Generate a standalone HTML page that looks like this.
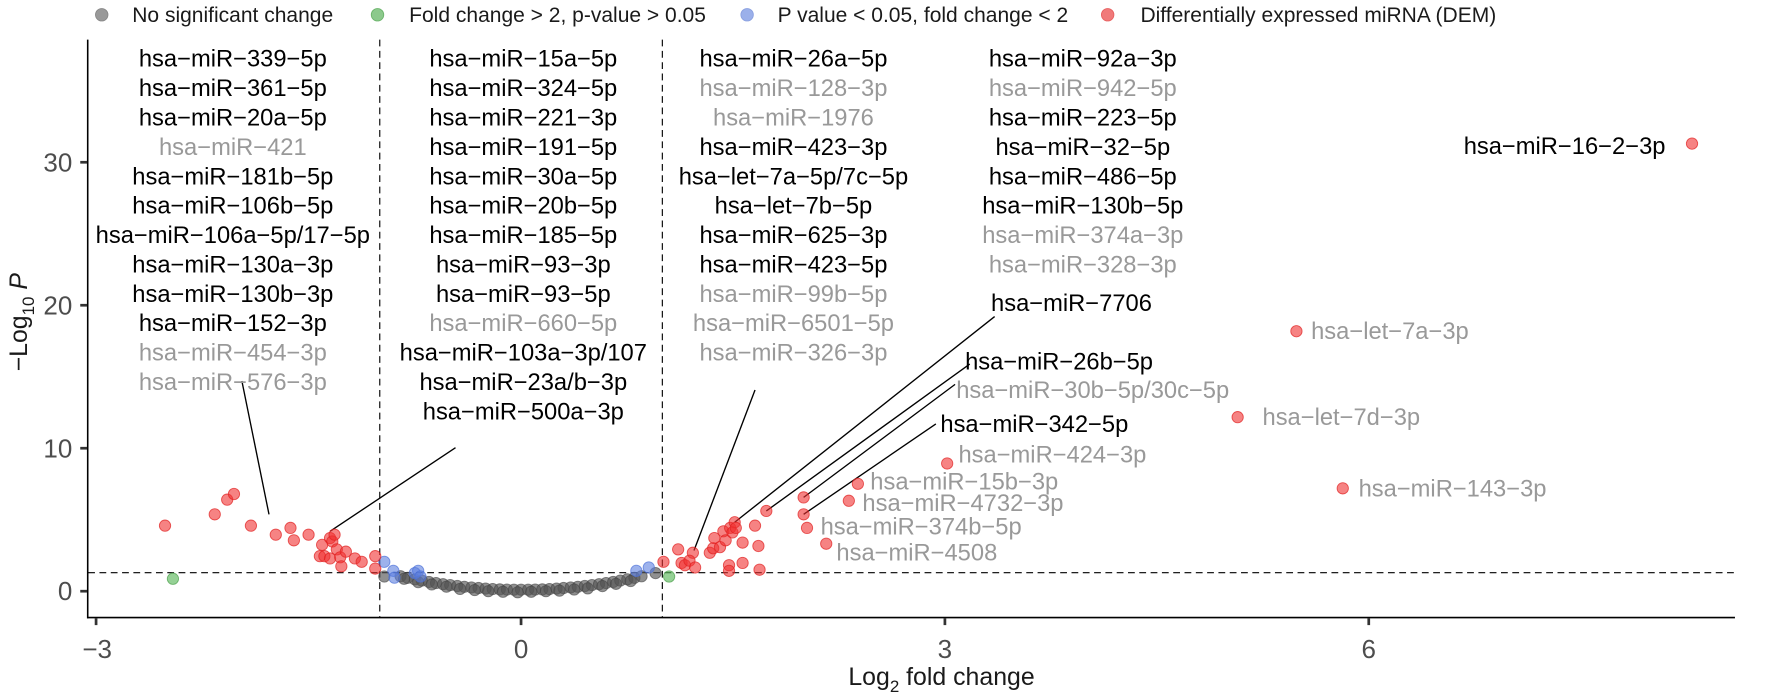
<!DOCTYPE html>
<html><head><meta charset="utf-8"><style>
html,body{margin:0;padding:0;background:#fff;}
svg{display:block;font-family:"Liberation Sans",Arial,sans-serif;}
.lb{font-size:21px;text-anchor:middle;fill:#000;}
.g{fill:#999;}
.tk{font-size:23px;fill:#4d4d4d;}
.lg{font-size:18.6px;fill:#1a1a1a;}
.r{fill:#f03030;fill-opacity:.6;stroke:#e02020;stroke-opacity:.7;stroke-width:.8}
.k{fill:#555;fill-opacity:.65;stroke:#444;stroke-opacity:.6;stroke-width:.8}
.b{fill:#5b7fe0;fill-opacity:.6;stroke:#4a6fd8;stroke-opacity:.7;stroke-width:.8}
.gr{fill:#5cb85c;fill-opacity:.65;stroke:#4aa04a;stroke-opacity:.7;stroke-width:.8}
</style></head><body>
<svg width="1770" height="693" viewBox="0 0 1566 613" xmlns="http://www.w3.org/2000/svg">
<!-- legend -->
<circle cx="90" cy="13" r="5.5" fill="#999" stroke="#888" stroke-width=".8"/>
<text class="lg" x="117" y="19.5">No significant change</text>
<circle cx="334" cy="13" r="5.5" fill="#8cc98c" stroke="#6ab46a" stroke-width=".8"/>
<text class="lg" x="362" y="19.5">Fold change &gt; 2, p-value &gt; 0.05</text>
<circle cx="661" cy="13" r="5.5" fill="#9bb0ea" stroke="#8aa0e0" stroke-width=".8"/>
<text class="lg" x="688" y="19.5">P value &lt; 0.05, fold change &lt; 2</text>
<circle cx="980" cy="13" r="5.5" fill="#f07a7a" stroke="#e86060" stroke-width=".8"/>
<text class="lg" x="1009" y="19.5">Differentially expressed miRNA (DEM)</text>

<!-- axes -->
<line x1="77.6" y1="35" x2="77.6" y2="547" stroke="#000" stroke-width="1.4"/>
<line x1="77" y1="546.3" x2="1535" y2="546.3" stroke="#000" stroke-width="1.4"/>
<g stroke="#333" stroke-width="2.4">
<line x1="71" y1="523" x2="77" y2="523"/><line x1="71" y1="396.5" x2="77" y2="396.5"/>
<line x1="71" y1="270" x2="77" y2="270"/><line x1="71" y1="143.5" x2="77" y2="143.5"/>
<line x1="85" y1="547" x2="85" y2="553"/><line x1="461" y1="547" x2="461" y2="553"/>
<line x1="836" y1="547" x2="836" y2="553"/><line x1="1211" y1="547" x2="1211" y2="553"/>
</g>
<g class="tk" text-anchor="end">
<text x="64" y="531">0</text><text x="64" y="404.5">10</text><text x="64" y="278">20</text><text x="64" y="151.5">30</text>
</g>
<g class="tk" text-anchor="middle">
<text x="86" y="582">−3</text><text x="461" y="582">0</text><text x="836" y="582">3</text><text x="1211" y="582">6</text>
</g>
<text x="833" y="606" text-anchor="middle" style="font-size:22px;fill:#1a1a1a">Log<tspan font-size="15" dy="6">2</tspan><tspan dy="-6"> fold change</tspan></text>
<text transform="translate(24,285) rotate(-90)" text-anchor="middle" style="font-size:22px;fill:#1a1a1a">−Log<tspan font-size="15" dy="6">10</tspan><tspan dy="-6" font-style="italic"> P</tspan></text>

<!-- threshold lines -->
<g stroke="#000" stroke-width="1" stroke-dasharray="6,4">
<line x1="336" y1="35" x2="336" y2="546"/>
<line x1="586" y1="35" x2="586" y2="546"/>
<line x1="78" y1="506.6" x2="1535" y2="506.6"/>
</g>

<!-- connectors -->
<g stroke="#000" stroke-width="1.2">
<line x1="238" y1="455" x2="214" y2="337"/>
<line x1="292" y1="470" x2="403" y2="396"/>
<line x1="614" y1="487" x2="668" y2="345"/>
<line x1="650" y1="462" x2="880" y2="280"/>
<line x1="678" y1="452" x2="858" y2="322"/>
<line x1="711" y1="440" x2="845" y2="340"/>
<line x1="711" y1="455" x2="828" y2="375"/>
</g>

<!-- gray points -->
<g class="k">
<circle cx="354.4" cy="509.8" r="5"/><circle cx="360.7" cy="511.2" r="5"/><circle cx="367" cy="512.5" r="5"/><circle cx="373.2" cy="513.6" r="5"/><circle cx="379.5" cy="514.8" r="5"/><circle cx="385.8" cy="515.8" r="5"/><circle cx="392" cy="516.8" r="5"/><circle cx="398.3" cy="517.6" r="5"/><circle cx="404.6" cy="518.4" r="5"/><circle cx="410.8" cy="519.1" r="5"/><circle cx="417.1" cy="519.7" r="5"/><circle cx="423.4" cy="520.2" r="5"/><circle cx="429.6" cy="520.7" r="5"/><circle cx="435.9" cy="521.1" r="5"/><circle cx="442.2" cy="521.4" r="5"/><circle cx="448.5" cy="521.6" r="5"/><circle cx="454.7" cy="521.7" r="5"/><circle cx="461" cy="521.7" r="5"/><circle cx="467.3" cy="521.7" r="5"/><circle cx="473.5" cy="521.6" r="5"/><circle cx="479.8" cy="521.4" r="5"/><circle cx="486.1" cy="521.1" r="5"/><circle cx="492.4" cy="520.7" r="5"/><circle cx="498.6" cy="520.2" r="5"/><circle cx="504.9" cy="519.7" r="5"/><circle cx="511.2" cy="519.1" r="5"/><circle cx="517.4" cy="518.4" r="5"/><circle cx="523.7" cy="517.6" r="5"/><circle cx="530" cy="516.8" r="5"/><circle cx="536.2" cy="515.8" r="5"/><circle cx="542.5" cy="514.8" r="5"/><circle cx="548.8" cy="513.6" r="5"/><circle cx="555" cy="512.5" r="5"/><circle cx="561.3" cy="511.2" r="5"/><circle cx="567.6" cy="509.8" r="5"/>
<circle cx="357.5" cy="512" r="5"/><circle cx="370" cy="515" r="5"/><circle cx="382" cy="517" r="5"/><circle cx="395" cy="519" r="5"/><circle cx="407" cy="521" r="5"/><circle cx="420" cy="522" r="5"/><circle cx="432" cy="523" r="5"/><circle cx="445" cy="523.5" r="5"/><circle cx="458" cy="524" r="5"/><circle cx="470" cy="523.5" r="5"/><circle cx="483" cy="523" r="5"/><circle cx="495" cy="522.5" r="5"/><circle cx="508" cy="521.5" r="5"/><circle cx="520" cy="520.5" r="5"/><circle cx="533" cy="518.5" r="5"/><circle cx="545" cy="516.5" r="5"/><circle cx="558" cy="514" r="5"/><circle cx="580" cy="507" r="5"/><circle cx="340" cy="510" r="5"/>
</g>
<!-- blue -->
<g class="b">
<circle cx="340" cy="497" r="5"/><circle cx="348" cy="505" r="5"/><circle cx="349" cy="511" r="5"/><circle cx="367" cy="507" r="5"/><circle cx="370" cy="505" r="5"/><circle cx="372" cy="510" r="5"/><circle cx="563" cy="505" r="5"/><circle cx="574" cy="502" r="5"/>
</g>
<!-- green -->
<g class="gr"><circle cx="153" cy="512" r="5"/><circle cx="592" cy="510" r="5"/></g>
<!-- red -->
<g class="r">
<circle cx="146" cy="465" r="5"/><circle cx="190" cy="455" r="5"/><circle cx="201" cy="442" r="5"/><circle cx="207" cy="437" r="5"/><circle cx="222" cy="465" r="5"/><circle cx="244" cy="473" r="5"/><circle cx="257" cy="467" r="5"/><circle cx="260" cy="478" r="5"/><circle cx="273" cy="473" r="5"/><circle cx="285" cy="482" r="5"/><circle cx="292" cy="476" r="5"/><circle cx="294" cy="479" r="5"/><circle cx="296" cy="473" r="5"/><circle cx="283" cy="492" r="5"/><circle cx="287" cy="492" r="5"/><circle cx="292" cy="494" r="5"/><circle cx="298" cy="486" r="5"/><circle cx="301" cy="493" r="5"/><circle cx="302" cy="501" r="5"/><circle cx="306" cy="488" r="5"/><circle cx="314" cy="494" r="5"/><circle cx="320" cy="497" r="5"/><circle cx="332" cy="492" r="5"/><circle cx="332" cy="503" r="5"/>
<circle cx="587" cy="497" r="5"/><circle cx="600" cy="486" r="5"/><circle cx="603" cy="498" r="5"/><circle cx="606" cy="500" r="5"/><circle cx="613" cy="489" r="5"/><circle cx="610" cy="496" r="5"/><circle cx="615" cy="502" r="5"/><circle cx="628" cy="489" r="5"/><circle cx="631" cy="485" r="5"/><circle cx="632" cy="476" r="5"/><circle cx="637" cy="484" r="5"/><circle cx="640" cy="470" r="5"/><circle cx="642" cy="478" r="5"/><circle cx="646" cy="467" r="5"/><circle cx="650" cy="462" r="5"/><circle cx="648" cy="471" r="5"/><circle cx="651" cy="467" r="5"/><circle cx="657" cy="480" r="5"/><circle cx="668" cy="465" r="5"/><circle cx="671" cy="483" r="5"/><circle cx="672" cy="504" r="5"/><circle cx="657" cy="498" r="5"/><circle cx="645" cy="500" r="5"/><circle cx="645" cy="505" r="5"/><circle cx="678" cy="452" r="5"/><circle cx="711" cy="440" r="5"/><circle cx="711" cy="455" r="5"/><circle cx="714" cy="467" r="5"/><circle cx="731" cy="481" r="5"/><circle cx="751" cy="443" r="5"/><circle cx="759" cy="428" r="5"/><circle cx="838" cy="410" r="5"/><circle cx="1095" cy="369" r="5"/><circle cx="1147" cy="293" r="5"/><circle cx="1188" cy="432" r="5"/><circle cx="1497" cy="127" r="5"/>
</g>

<!-- label columns -->
<g class="lb">
<text x="206" y="59">hsa−miR−339−5p</text>
<text x="206" y="85">hsa−miR−361−5p</text>
<text x="206" y="111">hsa−miR−20a−5p</text>
<text x="206" y="137" class="g">hsa−miR−421</text>
<text x="206" y="163">hsa−miR−181b−5p</text>
<text x="206" y="189">hsa−miR−106b−5p</text>
<text x="206" y="215">hsa−miR−106a−5p/17−5p</text>
<text x="206" y="241">hsa−miR−130a−3p</text>
<text x="206" y="267">hsa−miR−130b−3p</text>
<text x="206" y="293">hsa−miR−152−3p</text>
<text x="206" y="319" class="g">hsa−miR−454−3p</text>
<text x="206" y="345" class="g">hsa−miR−576−3p</text>

<text x="463" y="59">hsa−miR−15a−5p</text>
<text x="463" y="85">hsa−miR−324−5p</text>
<text x="463" y="111">hsa−miR−221−3p</text>
<text x="463" y="137">hsa−miR−191−5p</text>
<text x="463" y="163">hsa−miR−30a−5p</text>
<text x="463" y="189">hsa−miR−20b−5p</text>
<text x="463" y="215">hsa−miR−185−5p</text>
<text x="463" y="241">hsa−miR−93−3p</text>
<text x="463" y="267">hsa−miR−93−5p</text>
<text x="463" y="293" class="g">hsa−miR−660−5p</text>
<text x="463" y="319">hsa−miR−103a−3p/107</text>
<text x="463" y="345">hsa−miR−23a/b−3p</text>
<text x="463" y="371">hsa−miR−500a−3p</text>

<text x="702" y="59">hsa−miR−26a−5p</text>
<text x="702" y="85" class="g">hsa−miR−128−3p</text>
<text x="702" y="111" class="g">hsa−miR−1976</text>
<text x="702" y="137">hsa−miR−423−3p</text>
<text x="702" y="163">hsa−let−7a−5p/7c−5p</text>
<text x="702" y="189">hsa−let−7b−5p</text>
<text x="702" y="215">hsa−miR−625−3p</text>
<text x="702" y="241">hsa−miR−423−5p</text>
<text x="702" y="267" class="g">hsa−miR−99b−5p</text>
<text x="702" y="293" class="g">hsa−miR−6501−5p</text>
<text x="702" y="319" class="g">hsa−miR−326−3p</text>

<text x="958" y="59">hsa−miR−92a−3p</text>
<text x="958" y="85" class="g">hsa−miR−942−5p</text>
<text x="958" y="111">hsa−miR−223−5p</text>
<text x="958" y="137">hsa−miR−32−5p</text>
<text x="958" y="163">hsa−miR−486−5p</text>
<text x="958" y="189">hsa−miR−130b−5p</text>
<text x="958" y="215" class="g">hsa−miR−374a−3p</text>
<text x="958" y="241" class="g">hsa−miR−328−3p</text>
<text x="948" y="275">hsa−miR−7706</text>
<text x="937" y="327">hsa−miR−26b−5p</text>
</g>
<g style="font-size:21px">
<text x="846" y="352" fill="#999">hsa−miR−30b−5p/30c−5p</text>
<text x="832" y="382" fill="#000">hsa−miR−342−5p</text>
<text x="848" y="409" fill="#999">hsa−miR−424−3p</text>
<text x="770" y="433" fill="#999">hsa−miR−15b−3p</text>
<text x="763" y="452" fill="#999">hsa−miR−4732−3p</text>
<text x="726" y="473" fill="#999">hsa−miR−374b−5p</text>
<text x="740" y="496" fill="#999">hsa−miR−4508</text>
<text x="1295" y="136" fill="#000">hsa−miR−16−2−3p</text>
<text x="1160" y="300" fill="#999">hsa−let−7a−3p</text>
<text x="1117" y="376" fill="#999">hsa−let−7d−3p</text>
<text x="1202" y="439" fill="#999">hsa−miR−143−3p</text>
</g>
</svg>
</body></html>
